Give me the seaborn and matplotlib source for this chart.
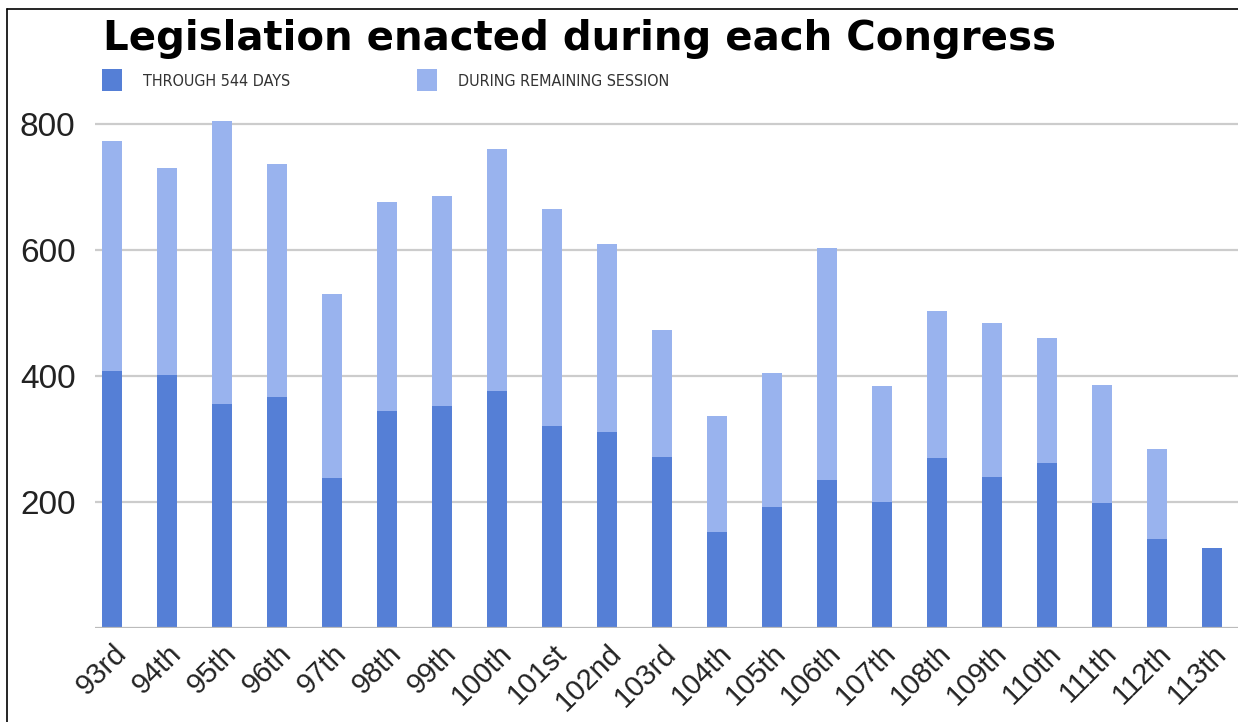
import pandas as pd
import numpy as np
import matplotlib
matplotlib.use('Agg')
import matplotlib.pyplot as plt
from matplotlib.patches import Rectangle
from matplotlib.lines import Line2D
import seaborn as sns

# values
congresses = ['93rd', '94th', '95th', '96th', '97th', '98th', '99th', '100th', '101st',
              '102nd', '103rd', '104th', '105th', '106th', '107th', '108th', '109th',
              '110th', '111th', '112th', '113th']
through_544 = [408, 402, 356, 367, 238, 344, 352, 376, 321, 312, 272, 152, 193, 235,
               200, 270, 240, 262, 198, 141, 127]
total_enacted = [773, 730, 805, 737, 530, 677, 686, 760, 665, 610, 473, 337, 405, 604,
                 384, 504, 484, 460, 386, 284, 127]
y_ticks = [200, 400, 600, 800]
legend_labels = ['THROUGH 544 DAYS', 'DURING REMAINING SESSION']

DARK = '#557fd6'
LIGHT = '#99b3ee'

df = pd.DataFrame({'congress': congresses, 'through': through_544, 'total': total_enacted})

sns.set_style('white')
plt.rcParams['font.family'] = ['Liberation Sans', 'DejaVu Sans']

W, H = 1238, 722
fig = plt.figure(figsize=(W / 100, H / 100), dpi=100)
ax = fig.add_axes([95 / W, 1 - 628.3 / H, 1 - 95 / W, (628.3 - 111.4) / H])

sns.barplot(data=df, x='congress', y='total', color=LIGHT, width=0.37,
            saturation=1, linewidth=0, ax=ax, zorder=3)
sns.barplot(data=df, x='congress', y='through', color=DARK, width=0.37,
            saturation=1, linewidth=0, ax=ax, zorder=4)

ax.set_xlim(-0.31, 20.47)
ax.set_ylim(0, 820)
ax.set_yticks(y_ticks)
ax.set_yticklabels([str(v) for v in y_ticks], fontsize=24, color='#222222')
ax.yaxis.grid(True, color='#cccccc', linewidth=1.6, zorder=0)
ax.axhline(0, color='#bbbbbb', linewidth=1.6, zorder=5)
ax.tick_params(axis='both', length=0)
ax.tick_params(axis='y', pad=14)
ax.set_xlabel('')
ax.set_ylabel('')
for lab in ax.get_xticklabels():
    lab.set_rotation(45)
    lab.set_ha('right')
    lab.set_rotation_mode('anchor')
    lab.set_fontsize(21)
    lab.set_color('#222222')
ax.tick_params(axis='x', pad=8)
for s in ax.spines.values():
    s.set_visible(False)

# title and legend
fig.text(103 / W, 1 - 50 / H, 'Legislation enacted during each Congress',
         fontsize=29, fontweight='bold', family=['DejaVu Sans'], color='black',
         va='baseline', ha='left')

for (x0, tx), label, color in zip([(102, 143), (417, 458)], legend_labels, [DARK, LIGHT]):
    fig.add_artist(Rectangle((x0 / W, 1 - 91 / H), 20 / W, 22 / H,
                             transform=fig.transFigure, color=color, lw=0))
    fig.text(tx / W, 1 - 81 / H, label, fontsize=11.5,
             family=['Liberation Sans Narrow', 'DejaVu Sans'], fontstretch='condensed',
             color='#333333', va='center', ha='left')

# frame lines of the original graphic
fig.add_artist(Line2D([7 / W, 1], [1 - 9 / H, 1 - 9 / H], transform=fig.transFigure,
                      color='black', lw=1.2))
fig.add_artist(Line2D([7 / W, 7 / W], [0, 1 - 9 / H], transform=fig.transFigure,
                      color='black', lw=1.2))

fig.savefig('out.png', dpi=100, facecolor='white')
